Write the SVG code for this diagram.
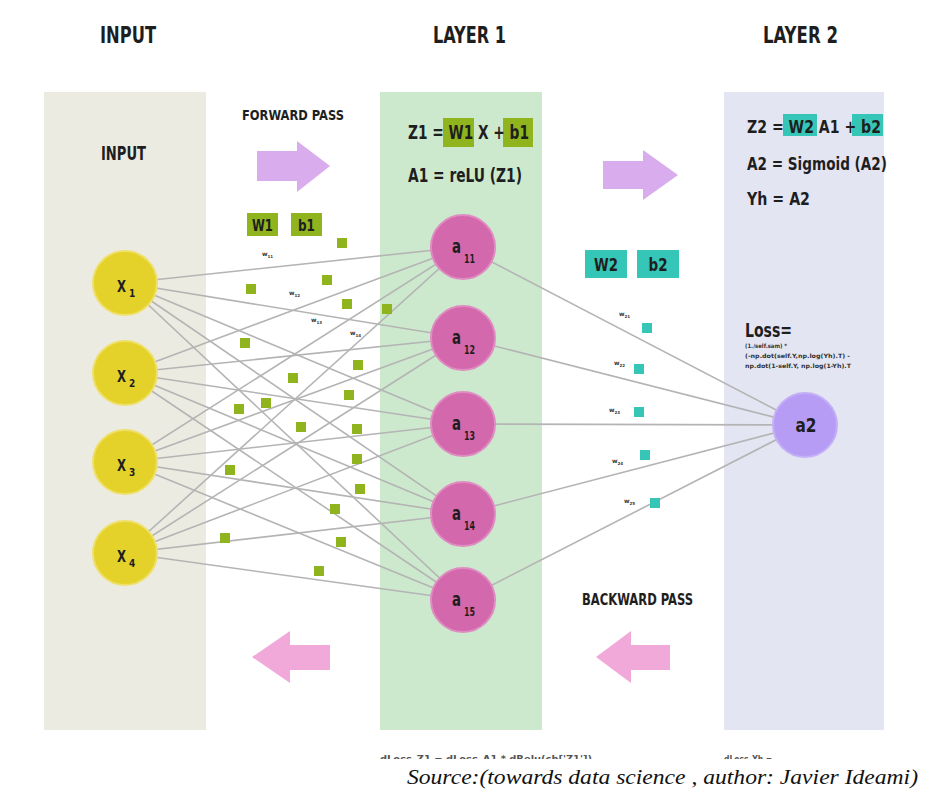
<svg xmlns="http://www.w3.org/2000/svg" width="944" height="804" viewBox="0 0 944 804">
<style>
.c{font-family:'DejaVu Sans Condensed','DejaVu Sans',sans-serif;font-stretch:condensed;font-weight:bold;fill:#1e1e1e}
.ln{stroke:#b4b4b4;stroke-width:1.6;fill:none}
.yn{fill:#e4d22b;stroke:#eee06a;stroke-width:2}
.pn{fill:#d468ad;stroke:#e08cc2;stroke-width:2}
.vn{fill:#b69cf4;stroke:#c4b0f6;stroke-width:2}
.gs{fill:#90b41d}
.cs{fill:#35c6b7}
.wl{font-family:'DejaVu Sans',sans-serif;font-weight:bold;font-size:6px;fill:#333}
.ws{font-size:4px}
.tiny{font-family:'DejaVu Sans Condensed','DejaVu Sans',sans-serif;font-weight:bold;font-size:6px;fill:#333}
.cut{font-family:'DejaVu Sans Condensed','DejaVu Sans',sans-serif;font-weight:bold;font-size:8px;fill:#555}
</style>
<defs>
<clipPath id="cut"><rect x="0" y="740" width="944" height="19"/></clipPath>
</defs>
<rect width="944" height="804" fill="#ffffff"/>

<g id="panels">
<rect x="44" y="92" width="162" height="638" fill="#ecebe2"/>
<rect x="380" y="92" width="162" height="638" fill="#cde9cd"/>
<rect x="724" y="92" width="160" height="638" fill="#e4e5f3"/>
</g>

<g id="headers">
<text class="c" x="100" y="43" font-size="23" textLength="56" lengthAdjust="spacingAndGlyphs">INPUT</text>
<text class="c" x="433" y="43" font-size="23" textLength="73" lengthAdjust="spacingAndGlyphs">LAYER 1</text>
<text class="c" x="763" y="43" font-size="23" textLength="75" lengthAdjust="spacingAndGlyphs">LAYER 2</text>
<text class="c" x="101" y="160" font-size="19" textLength="45" lengthAdjust="spacingAndGlyphs">INPUT</text>
<text class="c" x="242" y="120" font-size="14" textLength="102" lengthAdjust="spacingAndGlyphs" fill="#333">FORWARD PASS</text>
<text class="c" x="582" y="605" font-size="15" textLength="111" lengthAdjust="spacingAndGlyphs" fill="#333">BACKWARD PASS</text>
</g>

<g id="arrows">
<polygon points="257,151 297,151 297,141 330,166 297,192 297,181 257,181" fill="#d9acee"/>
<polygon points="603,161 643,161 643,150 678,175 643,200 643,189 603,189" fill="#d9acee"/>
<polygon points="596,657 631,631 631,645 670,645 670,670 631,670 631,683" fill="#f0a9d9"/>
<polygon points="252,657 290,631 290,645 330,645 330,670 290,670 290,683" fill="#f0a9d9"/>
</g>

<g id="formulas">
<rect x="443" y="118" width="31" height="29" class="gs"/>
<rect x="503" y="118" width="30" height="29" class="gs"/>
<text class="c" x="408" y="139" font-size="19" textLength="121" lengthAdjust="spacingAndGlyphs">Z1 = W1 X + b1</text>
<text class="c" x="408" y="182" font-size="19" textLength="114" lengthAdjust="spacingAndGlyphs">A1 = reLU (Z1)</text>

<rect x="783" y="114" width="34" height="22" class="cs"/>
<rect x="852" y="114" width="31" height="22" class="cs"/>
<text class="c" x="747" y="133" font-size="18" textLength="134" lengthAdjust="spacingAndGlyphs">Z2 = W2 A1 + b2</text>
<text class="c" x="747" y="170" font-size="18" textLength="140" lengthAdjust="spacingAndGlyphs">A2 = Sigmoid (A2)</text>
<text class="c" x="747" y="205" font-size="18" textLength="63" lengthAdjust="spacingAndGlyphs">Yh = A2</text>

<text class="c" x="745" y="337" font-size="20" textLength="47" lengthAdjust="spacingAndGlyphs">Loss=</text>
<text class="tiny" x="745" y="348" textLength="42" lengthAdjust="spacingAndGlyphs">(1./self.sam) *</text>
<text class="tiny" x="745" y="358" textLength="105" lengthAdjust="spacingAndGlyphs">(-np.dot(self.Y,np.log(Yh).T) -</text>
<text class="tiny" x="745" y="368" textLength="106" lengthAdjust="spacingAndGlyphs">np.dot(1-self.Y, np.log(1-Yh).T</text>
</g>

<g id="params">
<rect x="247" y="213" width="31" height="23" class="gs"/>
<rect x="291" y="213" width="31" height="23" class="gs"/>
<text class="c" x="262.5" y="231" font-size="16" text-anchor="middle" textLength="21" lengthAdjust="spacingAndGlyphs">W1</text>
<text class="c" x="306.5" y="231" font-size="16" text-anchor="middle" textLength="17" lengthAdjust="spacingAndGlyphs">b1</text>
<rect x="585" y="250" width="42" height="28" class="cs"/>
<rect x="637" y="250" width="42" height="28" class="cs"/>
<text class="c" x="606" y="271" font-size="17" text-anchor="middle" textLength="24" lengthAdjust="spacingAndGlyphs">W2</text>
<text class="c" x="658" y="271" font-size="17" text-anchor="middle" textLength="19" lengthAdjust="spacingAndGlyphs">b2</text>
</g>

<g id="connectors">
<line class="ln" x1="125" y1="283" x2="463" y2="247"/>
<line class="ln" x1="125" y1="283" x2="463" y2="338"/>
<line class="ln" x1="125" y1="283" x2="463" y2="424"/>
<line class="ln" x1="125" y1="283" x2="463" y2="514"/>
<line class="ln" x1="125" y1="283" x2="463" y2="600"/>
<line class="ln" x1="125" y1="373" x2="463" y2="247"/>
<line class="ln" x1="125" y1="373" x2="463" y2="338"/>
<line class="ln" x1="125" y1="373" x2="463" y2="424"/>
<line class="ln" x1="125" y1="373" x2="463" y2="514"/>
<line class="ln" x1="125" y1="373" x2="463" y2="600"/>
<line class="ln" x1="125" y1="462" x2="463" y2="247"/>
<line class="ln" x1="125" y1="462" x2="463" y2="338"/>
<line class="ln" x1="125" y1="462" x2="463" y2="424"/>
<line class="ln" x1="125" y1="462" x2="463" y2="514"/>
<line class="ln" x1="125" y1="462" x2="463" y2="600"/>
<line class="ln" x1="125" y1="553" x2="463" y2="247"/>
<line class="ln" x1="125" y1="553" x2="463" y2="338"/>
<line class="ln" x1="125" y1="553" x2="463" y2="424"/>
<line class="ln" x1="125" y1="553" x2="463" y2="514"/>
<line class="ln" x1="125" y1="553" x2="463" y2="600"/>
<line class="ln" x1="463" y1="247" x2="805" y2="425"/>
<line class="ln" x1="463" y1="338" x2="805" y2="425"/>
<line class="ln" x1="463" y1="424" x2="805" y2="425"/>
<line class="ln" x1="463" y1="514" x2="805" y2="425"/>
<line class="ln" x1="463" y1="600" x2="805" y2="425"/>
</g>

<g id="weights">
<rect x="337" y="238" width="10" height="10" class="gs"/>
<rect x="246" y="284" width="10" height="10" class="gs"/>
<rect x="322" y="275" width="10" height="10" class="gs"/>
<rect x="342" y="299" width="10" height="10" class="gs"/>
<rect x="382" y="304" width="10" height="10" class="gs"/>
<rect x="240" y="338" width="10" height="10" class="gs"/>
<rect x="353" y="360" width="10" height="10" class="gs"/>
<rect x="288" y="373" width="10" height="10" class="gs"/>
<rect x="344" y="390" width="10" height="10" class="gs"/>
<rect x="261" y="398" width="10" height="10" class="gs"/>
<rect x="234" y="404" width="10" height="10" class="gs"/>
<rect x="296" y="422" width="10" height="10" class="gs"/>
<rect x="352" y="424" width="10" height="10" class="gs"/>
<rect x="352" y="454" width="10" height="10" class="gs"/>
<rect x="225" y="465" width="10" height="10" class="gs"/>
<rect x="355" y="484" width="10" height="10" class="gs"/>
<rect x="330" y="504" width="10" height="10" class="gs"/>
<rect x="220" y="533" width="10" height="10" class="gs"/>
<rect x="336" y="537" width="10" height="10" class="gs"/>
<rect x="314" y="566" width="10" height="10" class="gs"/>
<text class="wl" x="262" y="256">w<tspan class="ws" dy="1.5">11</tspan></text>
<text class="wl" x="289" y="295">w<tspan class="ws" dy="1.5">12</tspan></text>
<text class="wl" x="311" y="322">w<tspan class="ws" dy="1.5">13</tspan></text>
<text class="wl" x="350" y="335">w<tspan class="ws" dy="1.5">14</tspan></text>

<rect x="642" y="323" width="10" height="10" class="cs"/>
<rect x="634" y="364" width="10" height="10" class="cs"/>
<rect x="634" y="407" width="10" height="10" class="cs"/>
<rect x="640" y="450" width="10" height="10" class="cs"/>
<rect x="650" y="498" width="10" height="10" class="cs"/>
<text class="wl" x="619" y="316">w<tspan class="ws" dy="1.5">21</tspan></text>
<text class="wl" x="614" y="365">w<tspan class="ws" dy="1.5">22</tspan></text>
<text class="wl" x="609" y="412">w<tspan class="ws" dy="1.5">23</tspan></text>
<text class="wl" x="612" y="463">w<tspan class="ws" dy="1.5">24</tspan></text>
<text class="wl" x="624" y="503">w<tspan class="ws" dy="1.5">25</tspan></text>
</g>

<g id="x1"><circle class="yn" cx="125" cy="283" r="32"/><text class="c" x="117" y="292" font-size="16" textLength="9" lengthAdjust="spacingAndGlyphs">X</text><text class="c" x="129" y="297" font-size="10">1</text></g>
<g id="x2"><circle class="yn" cx="125" cy="373" r="32"/><text class="c" x="117" y="382" font-size="16" textLength="9" lengthAdjust="spacingAndGlyphs">X</text><text class="c" x="129" y="387" font-size="10">2</text></g>
<g id="x3"><circle class="yn" cx="125" cy="462" r="32"/><text class="c" x="117" y="471" font-size="16" textLength="9" lengthAdjust="spacingAndGlyphs">X</text><text class="c" x="129" y="476" font-size="10">3</text></g>
<g id="x4"><circle class="yn" cx="125" cy="553" r="32"/><text class="c" x="117" y="562" font-size="16" textLength="9" lengthAdjust="spacingAndGlyphs">X</text><text class="c" x="129" y="567" font-size="10">4</text></g>

<g id="a11"><circle class="pn" cx="463" cy="247" r="32"/><text class="c" x="452" y="253" font-size="19" textLength="9" lengthAdjust="spacingAndGlyphs">a</text><text class="c" x="464" y="263" font-size="12" textLength="11" lengthAdjust="spacingAndGlyphs">11</text></g>
<g id="a12"><circle class="pn" cx="463" cy="338" r="32"/><text class="c" x="452" y="344" font-size="19" textLength="9" lengthAdjust="spacingAndGlyphs">a</text><text class="c" x="464" y="354" font-size="12" textLength="11" lengthAdjust="spacingAndGlyphs">12</text></g>
<g id="a13"><circle class="pn" cx="463" cy="424" r="32"/><text class="c" x="452" y="430" font-size="19" textLength="9" lengthAdjust="spacingAndGlyphs">a</text><text class="c" x="464" y="440" font-size="12" textLength="11" lengthAdjust="spacingAndGlyphs">13</text></g>
<g id="a14"><circle class="pn" cx="463" cy="514" r="32"/><text class="c" x="452" y="520" font-size="19" textLength="9" lengthAdjust="spacingAndGlyphs">a</text><text class="c" x="464" y="530" font-size="12" textLength="11" lengthAdjust="spacingAndGlyphs">14</text></g>
<g id="a15"><circle class="pn" cx="463" cy="600" r="32"/><text class="c" x="452" y="606" font-size="19" textLength="9" lengthAdjust="spacingAndGlyphs">a</text><text class="c" x="464" y="616" font-size="12" textLength="11" lengthAdjust="spacingAndGlyphs">15</text></g>

<g id="a2"><circle class="vn" cx="805" cy="425" r="32"/><text class="c" x="806" y="432" font-size="19" text-anchor="middle" textLength="21" lengthAdjust="spacingAndGlyphs">a2</text></g>

<g id="cutoff" clip-path="url(#cut)">
<text class="cut" x="380" y="762" textLength="212" lengthAdjust="spacingAndGlyphs">dLoss_Z1 = dLoss_A1 * dRelu(ch['Z1'])</text>
<text class="cut" x="724" y="762" textLength="48" lengthAdjust="spacingAndGlyphs">dLoss_Yh =</text>
</g>

<text x="407" y="784" font-family="'Liberation Serif',serif" font-style="italic" font-size="22" fill="#111" textLength="511" lengthAdjust="spacingAndGlyphs">Source:(towards data science , author: Javier Ideami)</text>
</svg>
